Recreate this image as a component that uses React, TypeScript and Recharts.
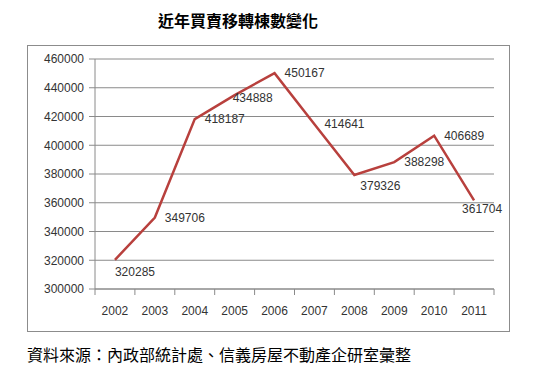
import React from "react";
import { LineChart, Line, XAxis, YAxis, CartesianGrid } from "recharts";

const years = ["2002", "2003", "2004", "2005", "2006", "2007", "2008", "2009", "2010", "2011"];
const transfers = [320285, 349706, 418187, 434888, 450167, 414641, 379326, 388298, 406689, 361704];
const yTicks = [300000, 320000, 340000, 360000, 380000, 400000, 420000, 440000, 460000];

const data = years.map((y, i) => ({ year: y, value: transfers[i] }));

const W = 540;
const H = 376;
const PLOT_LEFT = 95;
const PLOT_RIGHT = 494;
const HALF_BAND = (PLOT_RIGHT - PLOT_LEFT) / years.length / 2;
const AXIS_COLOR = "#8a8a8a";
const FONT = "'Liberation Sans', Arial, sans-serif";

const labelShift = (i: number): [number, number] => {
  switch (i) {
    case 0: return [0, 12];
    case 3: return [-2, 3];
    case 6: return [6, 11];
    case 9: return [-12, 9];
    default: return [10, 0];
  }
};

const renderLabel = (props: any) => {
  const { x, y, value, index } = props;
  const [dx, dy] = labelShift(index);
  return (
    <text x={x + dx} y={y + dy + 4} fontSize={12} fontFamily={FONT} fill="#333" textAnchor="start">
      {value}
    </text>
  );
};

const XTick = (props: any) => {
  const { x, y, payload, index } = props;
  return (
    <g>
      <line x1={x - HALF_BAND} x2={x - HALF_BAND} y1={y - 8} y2={y - 2} stroke={AXIS_COLOR} />
      {index === years.length - 1 && (
        <line x1={x + HALF_BAND} x2={x + HALF_BAND} y1={y - 8} y2={y - 2} stroke={AXIS_COLOR} />
      )}
      <text x={x} y={y + 18} fontSize={12} fontFamily={FONT} fill="#333" textAnchor="middle">
        {payload.value}
      </text>
    </g>
  );
};

export default function App() {
  return (
    <div style={{ position: "absolute", left: 0, top: 0, width: W, height: H, background: "#fff" }}>
      <div
        style={{
          position: "absolute",
          left: 0,
          width: W - 64,
          top: 10,
          textAlign: "center",
          fontFamily: "'Noto Sans CJK TC', sans-serif",
          fontWeight: 700,
          fontSize: 16,
          color: "#000",
          lineHeight: "20px",
        }}
      >
        近年買賣移轉棟數變化
      </div>
      <div
        style={{
          position: "absolute",
          left: 27,
          top: 45,
          width: 481,
          height: 285,
          border: "1px solid #8c8c8c",
        }}
      />
      <div style={{ position: "absolute", left: 0, top: 0 }}>
        <LineChart
          width={W}
          height={H}
          data={data}
          margin={{ top: 59, right: W - PLOT_RIGHT, bottom: 57, left: 0 }}
        >
          <CartesianGrid vertical={false} stroke={AXIS_COLOR} strokeWidth={1} />
          <XAxis
            dataKey="year"
            scale="band"
            height={30}
            axisLine={{ stroke: AXIS_COLOR }}
            tickLine={false}
            tick={<XTick />}
            interval={0}
          />
          <YAxis
            width={PLOT_LEFT}
            domain={[300000, 460000]}
            ticks={yTicks}
            interval={0}
            axisLine={{ stroke: AXIS_COLOR }}
            tickLine={{ stroke: AXIS_COLOR }}
            tickSize={6}
            tickMargin={5}
            tick={{ fontSize: 12, fontFamily: FONT, fill: "#333" }}
          />
          <Line
            type="linear"
            dataKey="value"
            stroke="#B8403D"
            strokeWidth={2.5}
            dot={false}
            isAnimationActive={false}
            label={renderLabel}
          />
        </LineChart>
      </div>
      <div
        style={{
          position: "absolute",
          left: 27,
          top: 344,
          fontFamily: "'Noto Sans CJK TC', sans-serif",
          fontSize: 16,
          color: "#000",
          lineHeight: "20px",
          whiteSpace: "nowrap",
        }}
      >
        資料來源：內政部統計處、信義房屋不動產企研室彙整
      </div>
    </div>
  );
}
